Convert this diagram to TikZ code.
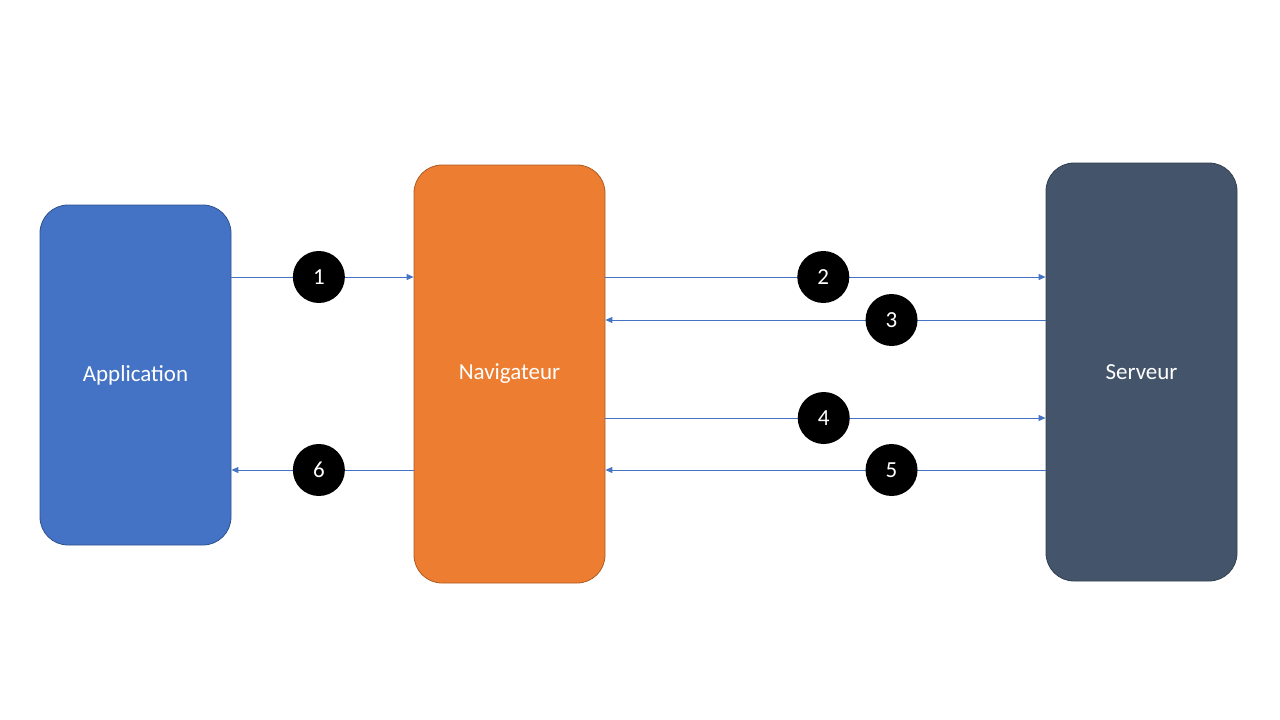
\documentclass[tikz,border=0pt]{standalone}
\usepackage{fontspec}
\setmainfont{Carlito}
\usetikzlibrary{arrows.meta}

\definecolor{appblue}{HTML}{4472C4}
\definecolor{appline}{HTML}{2F528F}
\definecolor{navorange}{HTML}{ED7D31}
\definecolor{navline}{HTML}{AE5A21}
\definecolor{srvslate}{HTML}{44546A}
\definecolor{srvline}{HTML}{323F4F}

\begin{document}
\begin{tikzpicture}[x=1pt, y=-1pt,
    box/.style={rounded corners=28pt, minimum width=191pt, text=white,
        font=\fontsize{23}{26}\selectfont, line width=0.8pt},
    flow/.style={appblue, line width=0.9pt, -{Triangle[length=7pt, width=6pt]}},
    badge/.style={circle, fill=black, text=white, minimum size=52pt, inner sep=0pt,
        font=\fontsize{23}{26}\selectfont}]
    % 画布大小
    \useasboundingbox (0,0) rectangle (1280,720);

    % 三个方框
    \node[box, fill=appblue, draw=appline, minimum height=340pt] (app) at (135.5,375) {Application};
    \node[box, fill=navorange, draw=navline, minimum height=418pt] (nav) at (509.5,374) {Navigateur};
    \node[box, fill=srvslate, draw=srvline, minimum height=418pt] (srv) at (1141.5,372) {Serveur};

    % 请求与响应
    \draw[flow] (app.east |- 0,277) -- node[badge, pos=0.48] (b1) {1} (nav.west |- 0,277);
    \draw[flow] (nav.east |- 0,277) -- node[badge, pos=0.495] (b2) {2} (srv.west |- 0,277);
    \draw[flow] (srv.west |- 0,320) -- node[badge, pos=0.35] (b3) {3} (nav.east |- 0,320);
    \draw[flow] (nav.east |- 0,418) -- node[badge, pos=0.496] (b4) {4} (srv.west |- 0,418);
    \draw[flow] (srv.west |- 0,470) -- node[badge, pos=0.35] (b5) {5} (nav.east |- 0,470);
    \draw[flow] (nav.west |- 0,470) -- node[badge, pos=0.52] (b6) {6} (app.east |- 0,470);
\end{tikzpicture}
\end{document}
